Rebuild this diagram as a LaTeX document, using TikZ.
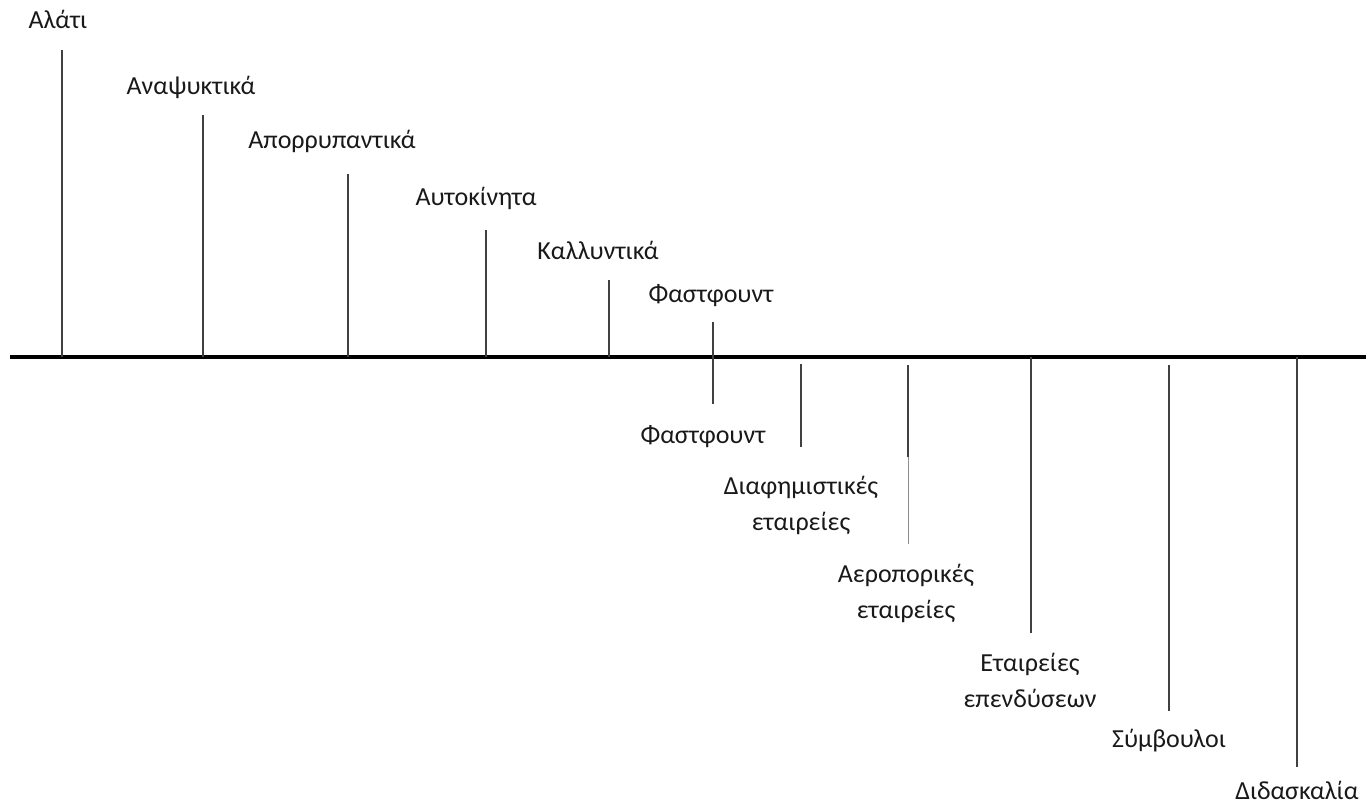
\documentclass[tikz,border=0pt]{standalone}
\usepackage{fontspec}
\setmainfont{Carlito}
\begin{document}
\begin{tikzpicture}[x=1pt,y=-1pt,
  lbl/.style={inner sep=0pt,align=center,font=\fontsize{26}{36}\selectfont,text=black!90},
  tick/.style={line width=1.6pt,draw=black!75},
  thintick/.style={line width=0.8pt,draw=black!45},
  axis/.style={line width=4pt,draw=black}]
\useasboundingbox (0,0) rectangle (1369,807);
% axis
\coordinate (axL) at (10,357);
\coordinate (axR) at (1366,357);
\draw[axis] (axL) -- (axR);
% upper ticks and labels
\node[lbl] (l1) at (58,19) {Αλάτι};
\coordinate (t1a) at (62,50); \coordinate (t1b) at (62,357);
\draw[tick] (t1a) -- (t1b);
\node[lbl] (l2) at (191,87) {Αναψυκτικά};
\coordinate (t2a) at (203,115); \coordinate (t2b) at (203,357);
\draw[tick] (t2a) -- (t2b);
\node[lbl] (l3) at (332,141) {Απορρυπαντικά};
\coordinate (t3a) at (348,174); \coordinate (t3b) at (348,357);
\draw[tick] (t3a) -- (t3b);
\node[lbl] (l4) at (476,198) {Αυτοκίνητα};
\coordinate (t4a) at (486,230); \coordinate (t4b) at (486,357);
\draw[tick] (t4a) -- (t4b);
\node[lbl] (l5) at (598,250) {Καλλυντικά};
\coordinate (t5a) at (609,280); \coordinate (t5b) at (609,357);
\draw[tick] (t5a) -- (t5b);
\node[lbl] (l6) at (711,296) {Φαστφουντ};
\coordinate (t6a) at (713,322); \coordinate (t6b) at (713,404);
\draw[tick] (t6a) -- (t6b);
% lower ticks and labels
\node[lbl] (l7) at (703,437) {Φαστφουντ};
\coordinate (t7a) at (801,364); \coordinate (t7b) at (801,447);
\draw[tick] (t7a) -- (t7b);
\node[lbl] (l8) at (801,505) {Διαφημιστικές\\εταιρείες};
\coordinate (t8a) at (908,365); \coordinate (t8m) at (908,457); \coordinate (t8b) at (908,544);
\draw[tick] (t8a) -- (t8m);
\draw[thintick] (t8m) -- (t8b);
\node[lbl] (l9) at (906,593) {Αεροπορικές\\εταιρείες};
\coordinate (t9a) at (1031,357); \coordinate (t9b) at (1031,633);
\draw[tick] (t9a) -- (t9b);
\node[lbl] (l10) at (1030,680) {Εταιρείες\\επενδύσεων};
\coordinate (t10a) at (1169,365); \coordinate (t10b) at (1169,711);
\draw[tick] (t10a) -- (t10b);
\node[lbl] (l11) at (1169,741) {Σύμβουλοι};
\coordinate (t11a) at (1297,357); \coordinate (t11b) at (1297,767);
\draw[tick] (t11a) -- (t11b);
\node[lbl] (l12) at (1297,790) {Διδασκαλία};
\end{tikzpicture}
\end{document}
